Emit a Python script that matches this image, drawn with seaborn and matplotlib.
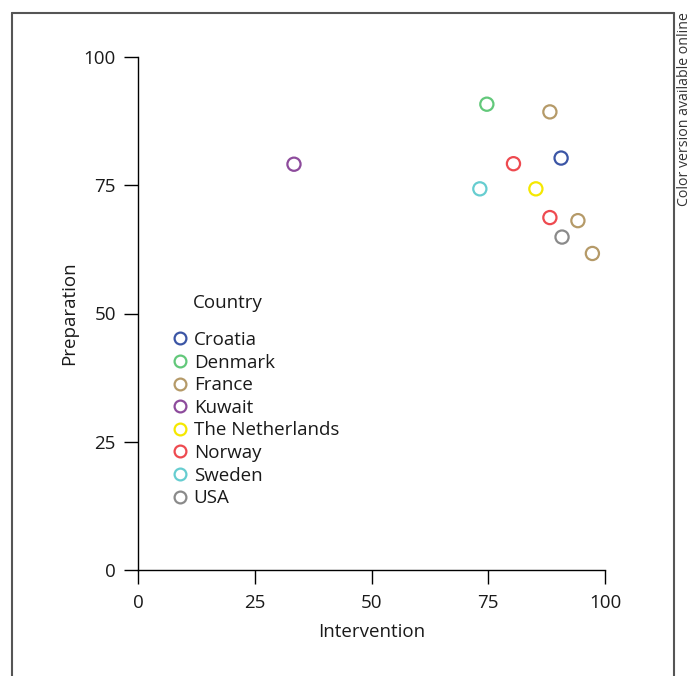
import pandas as pd
import matplotlib
matplotlib.use("Agg")
import matplotlib.pyplot as plt
from matplotlib.lines import Line2D
import seaborn as sns

# === Data ===
countries = ["Denmark", "France", "Croatia", "Norway", "Kuwait", "Sweden",
             "The Netherlands", "Norway", "France", "USA", "France"]
intervention = [74.7, 88.2, 90.6, 80.4, 33.4, 73.2, 85.2, 88.2, 94.2, 90.8, 97.3]
preparation = [90.8, 89.3, 80.3, 79.2, 79.1, 74.3, 74.3, 68.7, 68.1, 64.9, 61.7]

legend_order = ["Croatia", "Denmark", "France", "Kuwait", "The Netherlands",
                "Norway", "Sweden", "USA"]
colors = ["#3b55a5", "#62c87a", "#b59a68", "#8d4b9c", "#f5e800",
          "#ee4a50", "#66cdd0", "#8a8a8a"]
palette = dict(zip(legend_order, colors))

ticks = [0, 25, 50, 75, 100]

df = pd.DataFrame({"Country": countries,
                   "Intervention": intervention,
                   "Preparation": preparation})

# === Style ===
sns.set_style("white")
plt.rcParams["font.family"] = ["Open Sans", "DejaVu Sans"]
TXT = "#1a1a1a"
FS = 13.5

fig = plt.figure(figsize=(6.91, 6.76), dpi=100)
ax = fig.add_axes([138 / 691, 1 - 570 / 676, 467 / 691, 513 / 676])

sns.scatterplot(data=df, x="Intervention", y="Preparation", hue="Country",
                palette=palette, s=90, linewidth=1.6, legend=False, ax=ax,
                zorder=3)
# hollow markers: move fill colour to the edge
coll = ax.collections[0]
fc = coll.get_facecolors()
coll.set_edgecolors(fc)
coll.set_facecolors("none")

ax.set_xlim(0, 100)
ax.set_ylim(0, 100)
ax.set_xticks(ticks)
ax.set_yticks(ticks)
ax.tick_params(axis="both", direction="out", length=10, width=1.0,
               colors="black", labelcolor=TXT, labelsize=FS, pad=6,
               bottom=True, left=True)
ax.tick_params(axis="x", pad=7)
for side in ["top", "right"]:
    ax.spines[side].set_visible(False)
for side in ["left", "bottom"]:
    ax.spines[side].set_color("black")
    ax.spines[side].set_linewidth(1.0)
ax.set_xlabel("Intervention", fontsize=FS, color=TXT, labelpad=8.5)
ax.set_ylabel("Preparation", fontsize=FS, color=TXT, labelpad=4)

# === Legend ===
handles = [Line2D([], [], linestyle="none", marker="o", markersize=8.5,
                  markerfacecolor="none", markeredgecolor=palette[c],
                  markeredgewidth=1.6) for c in legend_order]
leg = ax.legend(handles, legend_order, loc="upper left",
                bbox_to_anchor=(173 / 691, 1 - 331 / 676),
                bbox_transform=fig.transFigure, frameon=False,
                fontsize=FS, handlelength=0.75, handletextpad=0.35,
                labelspacing=0.245, borderpad=0, borderaxespad=0)
for t in leg.get_texts():
    t.set_color(TXT)
fig.text(193 / 691, 1 - 303 / 676, "Country", fontsize=FS, color=TXT,
         ha="left", va="center")

# === Page frame and side note ===
frame_kw = dict(color="#555555", linewidth=1.5, transform=fig.transFigure)
fig.add_artist(Line2D([11.5 / 691, 11.5 / 691], [0, 1 - 12.5 / 676], **frame_kw))
fig.add_artist(Line2D([11.5 / 691, 673.5 / 691], [1 - 12.5 / 676, 1 - 12.5 / 676], **frame_kw))
fig.add_artist(Line2D([673.5 / 691, 673.5 / 691], [0, 1 - 12.5 / 676], **frame_kw))
fig.text(684 / 691, 1 - 12 / 676, "Color version available online",
         rotation=90, fontsize=10.2, color="#333333", ha="center", va="top")

fig.savefig("out.png", dpi=100)
